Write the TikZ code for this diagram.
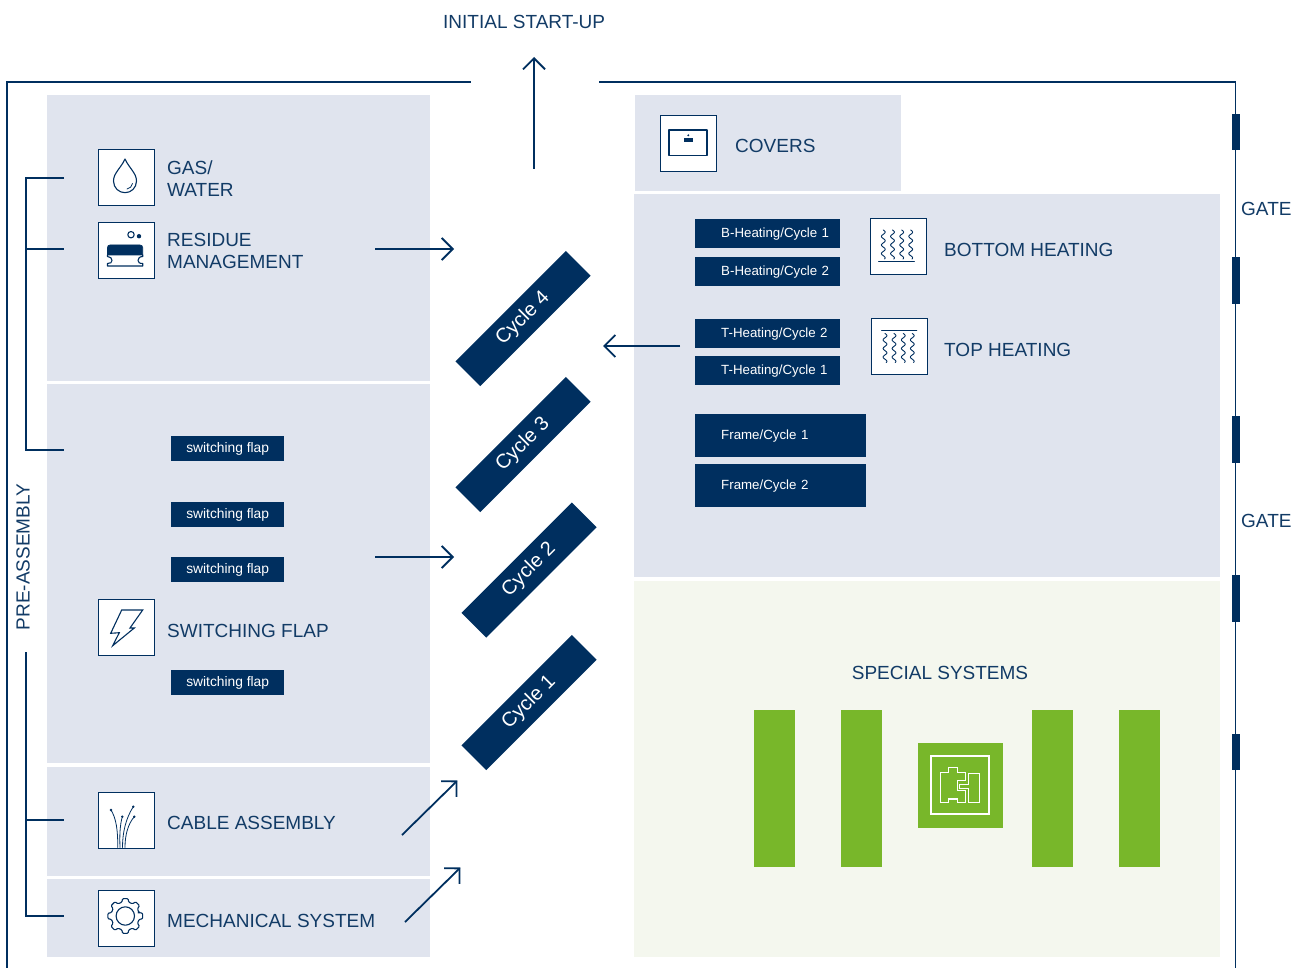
\documentclass[tikz,border=0pt]{standalone}
\usepackage{fontspec}
\setmainfont{Liberation Sans}
\usetikzlibrary{arrows.meta}
\definecolor{navy}{HTML}{002F5F}
\definecolor{inktext}{HTML}{123B66}
\definecolor{panelgrey}{HTML}{E0E4EE}
\definecolor{palegreen}{HTML}{F4F7EE}
\definecolor{leaf}{HTML}{78B72A}
\newcommand{\chiptxt}[1]{\hspace*{26pt}\mbox{#1}}
\tikzset{
  panel/.style={fill=panelgrey,draw=none,inner sep=0pt,anchor=north west},
  greenpanel/.style={fill=palegreen,draw=none,inner sep=0pt,anchor=north west},
  bar/.style={fill=leaf,draw=none,inner sep=0pt,anchor=north west,minimum width=41pt,minimum height=157pt},
  iconbox/.style={fill=white,draw=navy,line width=1.2pt,inner sep=0pt,anchor=north west,minimum width=56pt,minimum height=56pt},
  lab/.style={text=inktext,font=\fontsize{19}{22}\selectfont,inner sep=0pt,anchor=west,align=left},
  chip/.style={fill=navy,text=white,font=\fontsize{13.3}{15}\selectfont,inner xsep=0pt,inner ysep=0pt,anchor=north west,align=left,text width=#1},
  flap/.style={fill=navy,text=white,font=\fontsize{13.8}{15}\selectfont,inner sep=0pt,anchor=north west,minimum width=113pt,minimum height=25pt},
  cyc/.style={fill=navy,text=white,font=\fontsize{20}{22}\selectfont,inner sep=0pt,rotate=45,minimum width=156pt,minimum height=35pt},
  flow/.style={draw=navy,line width=1.8pt,-{Straight Barb[length=11pt,width=22pt,line width=1.8pt]}},
  frameline/.style={draw=navy,line width=1.3pt},
  brack/.style={draw=navy,line width=2pt},
  gatemark/.style={fill=navy,draw=none,inner sep=0pt,minimum width=8pt},
  ico/.style={draw=navy,line width=1.1pt,line cap=round,line join=round}
}
\begin{document}
\begin{tikzpicture}[x=1pt,y=-1pt]
\useasboundingbox (0,0) rectangle (1304,968);
\clip (0,0) rectangle (1304,968);
% panels
\node[panel,minimum width=383pt,minimum height=286pt] (p1) at (47,95) {};
\node[panel,minimum width=383pt,minimum height=379pt] (p2) at (47,384) {};
\node[panel,minimum width=383pt,minimum height=109pt] (p3) at (47,767) {};
\node[panel,minimum width=383pt,minimum height=78pt] (p4) at (47,879) {};
\node[panel,minimum width=266pt,minimum height=96pt] (p5) at (635,95) {};
\node[panel,minimum width=586pt,minimum height=383pt] (p6) at (634,194) {};
\node[greenpanel,minimum width=586pt,minimum height=376pt] (p7) at (634,581) {};
% frame
\coordinate (fa) at (7,968); \coordinate (fb) at (7,82); \coordinate (fc) at (471,82);
\coordinate (fd) at (599,82); \coordinate (fe) at (1235.5,82); \coordinate (ff) at (1235.5,968);
\draw[frameline] (fa) -- (fb) -- (fc);
\draw[frameline] (fd) -- (fe) -- (ff);
\foreach \n/\yc/\hh in {g1/132/36,g2/280.5/47,g3/439.5/47,g4/598.5/47,g5/752/36}
  \node[gatemark,minimum height=\hh pt] (\n) at (1236,\yc) {};
% bracket
\coordinate (ba) at (26,178); \coordinate (bb) at (26,450); \coordinate (bc) at (26,652); \coordinate (bd) at (26,916);
\coordinate (t1) at (64,178); \coordinate (t2) at (64,249); \coordinate (t3) at (64,450); \coordinate (t4) at (64,820); \coordinate (t5) at (64,916);
\coordinate (s2) at (26,249); \coordinate (s4) at (26,820);
\draw[brack] (t1) -- (ba) -- (bb) -- (t3);
\draw[brack] (s2) -- (t2);
\draw[brack] (bc) -- (bd) -- (t5);
\draw[brack] (s4) -- (t4);
% texts
\node[lab] (top) at (443,22) {INITIAL START-UP};
\node[lab,rotate=90,anchor=center] (pre) at (23,557) {PRE-ASSEMBLY};
\node[lab] (gate1) at (1241,209) {GATE};
\node[lab] (gate2) at (1241,521) {GATE};
\node[lab] (gas) at (167,179) {GAS/\\WATER};
\node[lab] (res) at (167,251) {RESIDUE\\MANAGEMENT};
\node[lab] (sw) at (167,631) {SWITCHING FLAP};
\node[lab] (cab) at (167,823) {CABLE ASSEMBLY};
\node[lab] (mec) at (167,921) {MECHANICAL SYSTEM};
\node[lab] (cov) at (735,146) {COVERS};
\node[lab] (bot) at (944,250) {BOTTOM HEATING};
\node[lab] (toph) at (944,350) {TOP HEATING};
\node[lab,anchor=center] (spec) at (940,673) {SPECIAL SYSTEMS};
% flaps
\node[flap] (f1) at (171,436) {switching flap};
\node[flap] (f2) at (171,502) {switching flap};
\node[flap] (f3) at (171,557) {switching flap};
\node[flap] (f4) at (171,670) {switching flap};
% chips
\node[chip=145pt,minimum height=29pt] (b1) at (695,219) {\chiptxt{B-Heating/Cycle 1}};
\node[chip=145pt,minimum height=29pt] (b2) at (695,257) {\chiptxt{B-Heating/Cycle 2}};
\node[chip=145pt,minimum height=29pt] (t2c) at (695,319) {\chiptxt{T-Heating/Cycle 2}};
\node[chip=145pt,minimum height=29pt] (t1c) at (695,356) {\chiptxt{T-Heating/Cycle 1}};
\node[chip=171pt,minimum height=43pt] (fr1) at (695,414) {\chiptxt{Frame/Cycle 1}};
\node[chip=171pt,minimum height=43pt] (fr2) at (695,464) {\chiptxt{Frame/Cycle 2}};
% cycles
\node[cyc] (c4) at (523,318.5) {Cycle 4};
\node[cyc] (c3) at (523,444.5) {Cycle 3};
\node[cyc] (c2) at (529,570) {Cycle 2};
\node[cyc] (c1) at (529,702.5) {Cycle 1};
% arrows
\coordinate (a1s) at (534,169); \coordinate (a1e) at (534,57);
\coordinate (a2s) at (375,249); \coordinate (a2e) at (454,249);
\coordinate (a3s) at (375,557); \coordinate (a3e) at (454,557);
\coordinate (a4s) at (680,346); \coordinate (a4e) at (603,346);
\coordinate (a5s) at (402,835); \coordinate (a5e) at (457.5,780.5);
\coordinate (a6s) at (405,922); \coordinate (a6e) at (460.5,867.5);
\draw[flow] (a1s) -- (a1e);
\draw[flow] (a2s) -- (a2e);
\draw[flow] (a3s) -- (a3e);
\draw[flow] (a4s) -- (a4e);
\draw[flow] (a5s) -- (a5e);
\draw[flow] (a6s) -- (a6e);
% icon boxes
\node[iconbox] (i1) at (98,149) {};
\node[iconbox] (i2) at (98,222) {};
\node[iconbox] (i3) at (98,599) {};
\node[iconbox] (i4) at (98,792) {};
\node[iconbox] (i5) at (98,890) {};
\node[iconbox] (i6) at (660,115) {};
\node[iconbox] (i7) at (870,218) {};
\node[iconbox] (i8) at (871,318) {};
% drop
\draw[ico] (125,159) .. controls (121,168) and (113.5,173) .. (113.5,181)
  .. controls (113.5,188) and (119,192.7) .. (125,192.7)
  .. controls (131,192.7) and (136.5,188) .. (136.5,181)
  .. controls (136.5,173) and (129,168) .. cycle;
\draw[ico,line width=.8pt] (132.5,183.5) .. controls (132,186.5) and (130,188.5) .. (127,189);
% sponge
\draw[ico,fill=navy,line width=.6pt] (107.5,255) -- (107.5,247.5) .. controls (107.5,246) and (108.5,245) .. (110,245)
  -- (140,245) .. controls (141.5,245) and (142.7,246) .. (142.7,247.5) -- (142.7,255) -- cycle;
\draw[ico] (107.5,255) -- (107.5,256.5) .. controls (110.5,256.5) and (112,258.5) .. (112,260.5)
  .. controls (112,262.5) and (110.5,263.5) .. (107.5,263.5) -- (107.5,266) -- (142.7,266) -- (142.7,263.5)
  .. controls (139.5,263.5) and (138,262.5) .. (138,260.5) .. controls (138,258.5) and (139.5,256.5) .. (142.7,256.5) -- (142.7,255);
\draw[ico] (131,234.7) circle[radius=3.2];
\fill[navy] (139,236.2) circle[radius=2.2];
% covers icon
\draw[ico,line cap=butt] (669,130) rectangle (707,155.6);
\fill[navy] (688.3,135.3) circle[radius=1.1];
\fill[navy] (684,138.3) rectangle (692.7,142.3);
% heating icons
\foreach \wx in {883.3,892.5,901.7,910.7}
  \draw[ico,line width=.9pt,domain=0:29,samples=50,smooth,variable=\t] plot ({\wx+1.9*sin(\t*42)},{230+\t});
\draw[ico] (878.7,261.7) -- (914.3,261.7);
\foreach \wx in {885,894,903.3,912.3}
  \draw[ico,line width=.9pt,domain=0:29,samples=50,smooth,variable=\t] plot ({\wx+1.9*sin(\t*42)},{333.5+\t});
\draw[ico] (881.7,330.3) -- (916.7,330.3);
% bolt
\draw[ico,line join=miter] (121.7,610) -- (142.7,610) -- (130,628) -- (134.3,628) -- (112.7,645.7) -- (119.3,632.7) -- (110.7,633.3) -- cycle;
% fibres
\draw[ico,line width=.8pt] (117.7,847.5) .. controls (118,830) and (116,818) .. (111,810);
\draw[ico,line width=.8pt] (120,847.5) .. controls (119.5,835) and (120,825) .. (122.3,816.7);
\draw[ico,line width=.8pt] (122.5,847.5) .. controls (122.5,832) and (126,818) .. (133.3,806.7);
\draw[ico,line width=.8pt] (125,847.5) .. controls (125,835) and (128,824) .. (134.3,816.7);
\foreach \px/\py in {111/810,122.3/816.7,133.3/806.7,134.3/816.7}
  \fill[navy] (\px,\py) circle[radius=1.3];
% gear
\begin{scope}[shift={(125.3,916)}]
\draw[ico,rounded corners=1pt] (-14:14)
  \foreach \a in {0,45,...,315} { -- ({\a-14}:14.2) -- ({\a-9}:17.6) -- ({\a+9}:17.6) -- ({\a+14}:14.2) } -- cycle;
\draw[ico] (0,0) circle[radius=9.2];
\end{scope}
% special systems
\node[bar] (sb1) at (754,710) {};
\node[bar] (sb2) at (841,710) {};
\node[bar] (sb3) at (1032,710) {};
\node[bar] (sb4) at (1119,710) {};
\node[fill=leaf,inner sep=0pt,anchor=north west,minimum width=85pt,minimum height=85pt] (chipbox) at (918,743) {};
\draw[white,line width=1.2pt] (931,756) rectangle (989,814);
\draw[white,line width=1.2pt] (940.7,772.3) -- (948.3,772.3) -- (948.3,767.3) -- (957.7,767.3) -- (957.7,772.3) -- (965.7,772.3) -- (965.7,780.7) -- (957.7,780.7) -- (957.7,790.7) -- (965.7,790.7) -- (965.7,802.7) -- (957.7,802.7) -- (957.7,799) -- (948.3,799) -- (948.3,802.7) -- (940.7,802.7) -- cycle;
\draw[white,line width=1.2pt] (968.3,773.3) -- (979.3,773.3) -- (979.3,802.7) -- (968.3,802.7) -- (968.3,788.3) -- (959.3,788.3) -- (959.3,784.3) -- (968.3,784.3) -- cycle;
\end{tikzpicture}
\end{document}
